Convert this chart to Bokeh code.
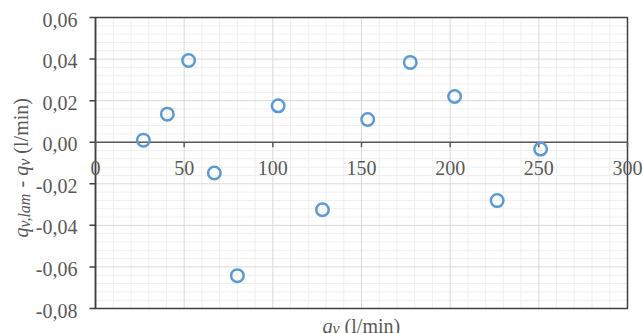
import numpy as np
from bokeh.plotting import figure
from bokeh.models import Range1d
from bokeh.core.properties import value
from bokeh.embed import file_html
from bokeh.resources import INLINE

# ---- data ----
q_v = [27, 40.5, 52.5, 67, 80, 103, 128, 153.5, 177.5, 202.5, 226.5, 251]
diff = [0.001, 0.0135, 0.0393, -0.0148, -0.0642, 0.0175, -0.0325, 0.0109,
        0.0384, 0.022, -0.0281, -0.0033]
x_ticks = [0, 50, 100, 150, 200, 250, 300]
x_tick_labels = ["0", "50", "100", "150", "200", "250", "300"]
y_ticks = [-0.08, -0.06, -0.04, -0.02, 0.0, 0.02, 0.04, 0.06]
y_tick_labels = ["-0,08", "-0,06", "-0,04", "-0,02", "0,00", "0,02", "0,04", "0,06"]

X0, X1 = 0, 300
Y0, Y1 = -0.08, 0.06
W, H = 643, 333

# page geometry of the plot area
FL, FR, FT, FB = 95, 627, 17, 308
SX = (X1 - X0) / (FR - FL)      # data units per pixel
SY = (Y1 - Y0) / (FB - FT)
def dx(px):
    return X0 + (px - FL) * SX
def dy(py):
    return Y1 - (py - FT) * SY

FIX = 5  # baseline correction (px) observed for svg text placement

FONT = value("Liberation Serif")
GRAY = "#595959"
DARK = "#404040"

p = figure(width=W, height=H, output_backend="svg", toolbar_location=None,
           x_range=Range1d(dx(0), dx(W)), y_range=Range1d(dy(H), dy(0)),
           x_axis_location=None, y_axis_location=None,
           min_border=0, min_border_left=0, min_border_right=0,
           min_border_top=0, min_border_bottom=0)
p.outline_line_color = None
p.grid.visible = False
p.background_fill_color = "white"
p.border_fill_color = "white"

# ---- grid lines ----
xminor = [v for v in np.arange(X0, X1 + 0.1, 10) if v not in x_ticks]
yminor = [v for v in np.round(np.arange(Y0, Y1 + 1e-9, 0.004), 4)
          if not any(abs(v - t) < 1e-9 for t in y_ticks)]
p.segment(x0=xminor, y0=[Y0] * len(xminor), x1=xminor, y1=[Y1] * len(xminor),
          line_color="#efefef", line_width=1)
p.segment(x0=[X0] * len(yminor), y0=yminor, x1=[X1] * len(yminor), y1=yminor,
          line_color="#efefef", line_width=1)
p.segment(x0=x_ticks, y0=[Y0] * len(x_ticks), x1=x_ticks, y1=[Y1] * len(x_ticks),
          line_color="#d9d9d9", line_width=1)
p.segment(x0=[X0] * len(y_ticks), y0=y_ticks, x1=[X1] * len(y_ticks), y1=y_ticks,
          line_color="#d9d9d9", line_width=1)

# ---- plot area border ----
p.quad(left=[X0], right=[X1], bottom=[Y0], top=[Y1], fill_color=None,
       line_color=DARK, line_width=1.5)

# ---- y axis (left) ----
p.segment(x0=[X0], y0=[Y0], x1=[X0], y1=[Y1], line_color=DARK, line_width=1.5)
p.segment(x0=[dx(FL - 6)] * len(y_ticks), y0=y_ticks, x1=[X0] * len(y_ticks),
          y1=y_ticks, line_color=DARK, line_width=1.5)
p.text(x=[dx(77)] * len(y_ticks), y=[t - (7 - FIX) * SY for t in y_ticks],
       text=y_tick_labels, text_align="right", text_baseline="alphabetic",
       text_font=FONT, text_font_size="20px", text_color=GRAY)

# ---- x axis at zero ----
p.segment(x0=[X0], y0=[0], x1=[X1], y1=[0], line_color=GRAY, line_width=1.5)
p.segment(x0=x_ticks, y0=[0] * len(x_ticks), x1=x_ticks,
          y1=[-5 * SY] * len(x_ticks), line_color=GRAY, line_width=1.5)
p.text(x=x_ticks, y=[dy(172 - FIX)] * len(x_ticks), text=x_tick_labels,
       text_align="center", text_baseline="alphabetic", text_font=FONT,
       text_font_size="20px", text_color=GRAY)

# ---- data points ----
p.scatter(q_v, diff, marker="circle", size=12.5, fill_color=None,
          line_color="#5B9BD5", line_width=2.5)

# ---- axis titles with subscripts ----
MAIN, SUB = 20, 16
adv = {"q": 0.5, "v": 0.444, ",": 0.25, "l": 0.278, "a": 0.5, "m": 0.722,
       " ": 0.25, "-": 0.333, "(": 0.333, ")": 0.333, "/": 0.278, "i": 0.278, "n": 0.5}
def width(txt, size):
    return sum(adv.get(c, 0.5) for c in txt) * size

# (text, size, style, gap before in em of MAIN)
pieces_y = [("q", MAIN, "italic", 0), ("v,lam", SUB, "italic", 0),
            ("-", MAIN, "normal", 0.25), ("q", MAIN, "italic", 0.25),
            ("v", SUB, "italic", 0), ("(l/min)", MAIN, "normal", 0.25)]
pos = 237.0
for txt, size, style, gap in pieces_y:
    pos -= gap * MAIN
    bx = (25 if size == MAIN else 29) - FIX
    p.text(x=[dx(bx)], y=[dy(pos)], text=[txt], angle=np.pi / 2,
           text_align="left", text_baseline="alphabetic", text_font=FONT,
           text_font_size=f"{size}px", text_font_style=style, text_color=GRAY)
    pos -= width(txt, size)

pieces_x = [("q", MAIN, "italic", 0), ("v", SUB, "italic", 0),
            ("(l/min)", MAIN, "normal", 0.25)]
posx = 322.0
for txt, size, style, gap in pieces_x:
    posx += gap * MAIN
    by = (330 if size == MAIN else 333) - FIX
    p.text(x=[dx(posx)], y=[dy(by)], text=[txt],
           text_align="left", text_baseline="alphabetic", text_font=FONT,
           text_font_size=f"{size}px", text_font_style=style, text_color=GRAY)
    posx += width(txt, size)

open("out.html", "w").write(file_html(p, INLINE))
